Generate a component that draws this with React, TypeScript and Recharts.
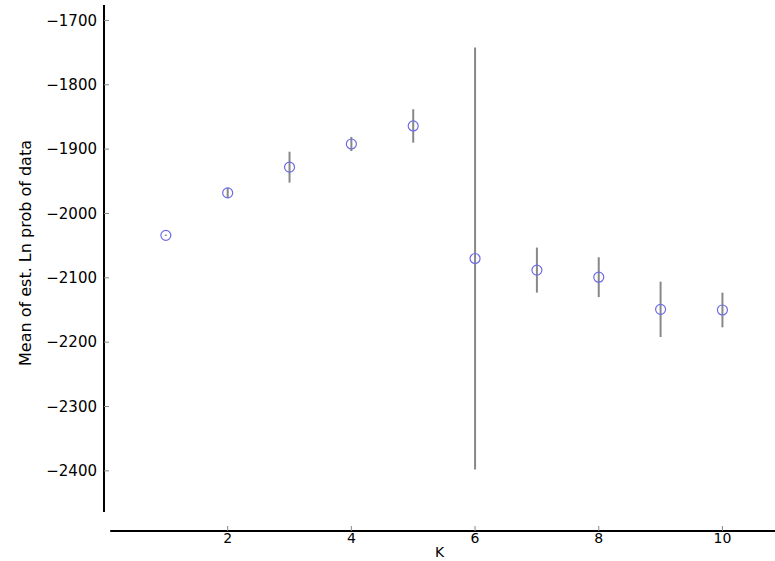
import {
  ErrorBar,
  ReferenceLine,
  Scatter,
  ScatterChart,
  XAxis,
  YAxis,
} from "recharts";

const kValues = [1, 2, 3, 4, 5, 6, 7, 8, 9, 10];
const meanLnProb = [-2034, -1968, -1928, -1892, -1864, -2070, -2088, -2099, -2149, -2150];
const stdevLnProb = [1, 8, 24, 11, 26, 328, 35, 31, 43, 27];

const xTicks = [2, 4, 6, 8, 10];
const yTicks = [-2400, -2300, -2200, -2100, -2000, -1900, -1800, -1700];

const xDomain: [number, number] = [0, 10.85];
const yDomain: [number, number] = [-2493.5, -1676];
const yAxisBottom = -2464;

const font = "'DejaVu Sans', sans-serif";
const xTickStyle = { fill: "#000", fontSize: 14, fontFamily: font };
const yTickStyle = { fill: "#000", fontSize: 15, fontFamily: font };

const fmt = (v: number) => (v < 0 ? "\u2212" + Math.abs(v) : String(v));

function OpenCircle(props: { cx?: number; cy?: number }) {
  const { cx, cy } = props;
  if (cx == null || cy == null) return null;
  return <circle cx={cx} cy={cy} r={5} fill="none" stroke="#6b6be6" strokeWidth={1.2} />;
}

export default function App() {
  const data = kValues.map((k, i) => ({ k, mean: meanLnProb[i], sd: stdevLnProb[i] }));

  return (
    <div style={{ position: "absolute", left: 0, top: 0, background: "#fff" }}>
      <ScatterChart width={775} height={561} margin={{ top: 5, right: 0, bottom: 0, left: 0 }}>
        <XAxis
          type="number"
          dataKey="k"
          domain={xDomain}
          ticks={xTicks}
          allowDataOverflow
          height={30}
          axisLine={false}
          tickLine={{ stroke: "#888" }}
          tickSize={-5}
          tickMargin={7}
          tick={xTickStyle}
          label={{ value: "K", position: "insideBottom", offset: 4, fill: "#000", fontSize: 14, fontFamily: font }}
        />
        <YAxis
          type="number"
          dataKey="mean"
          domain={yDomain}
          ticks={yTicks}
          allowDataOverflow
          width={104}
          axisLine={false}
          tickLine={{ stroke: "#888" }}
          tickSize={-5}
          tickMargin={12}
          tick={yTickStyle}
          tickFormatter={fmt}
          label={{
            value: "Mean of est. Ln prob of data",
            angle: -90,
            position: "center",
            dx: -27,
            dy: -15,
            fill: "#000",
            fontSize: 16,
            fontFamily: font,
          }}
        />
        <ReferenceLine
          segment={[
            { x: 0, y: yAxisBottom },
            { x: 0, y: yDomain[1] },
          ]}
          stroke="#000"
          strokeWidth={2}
        />
        <ReferenceLine
          segment={[
            { x: 0.1, y: yDomain[0] },
            { x: xDomain[1], y: yDomain[0] },
          ]}
          stroke="#000"
          strokeWidth={2}
        />
        <Scatter data={data} shape={<OpenCircle />} isAnimationActive={false}>
          <ErrorBar dataKey="sd" direction="y" width={0} stroke="#888" strokeWidth={2} />
        </Scatter>
      </ScatterChart>
    </div>
  );
}
